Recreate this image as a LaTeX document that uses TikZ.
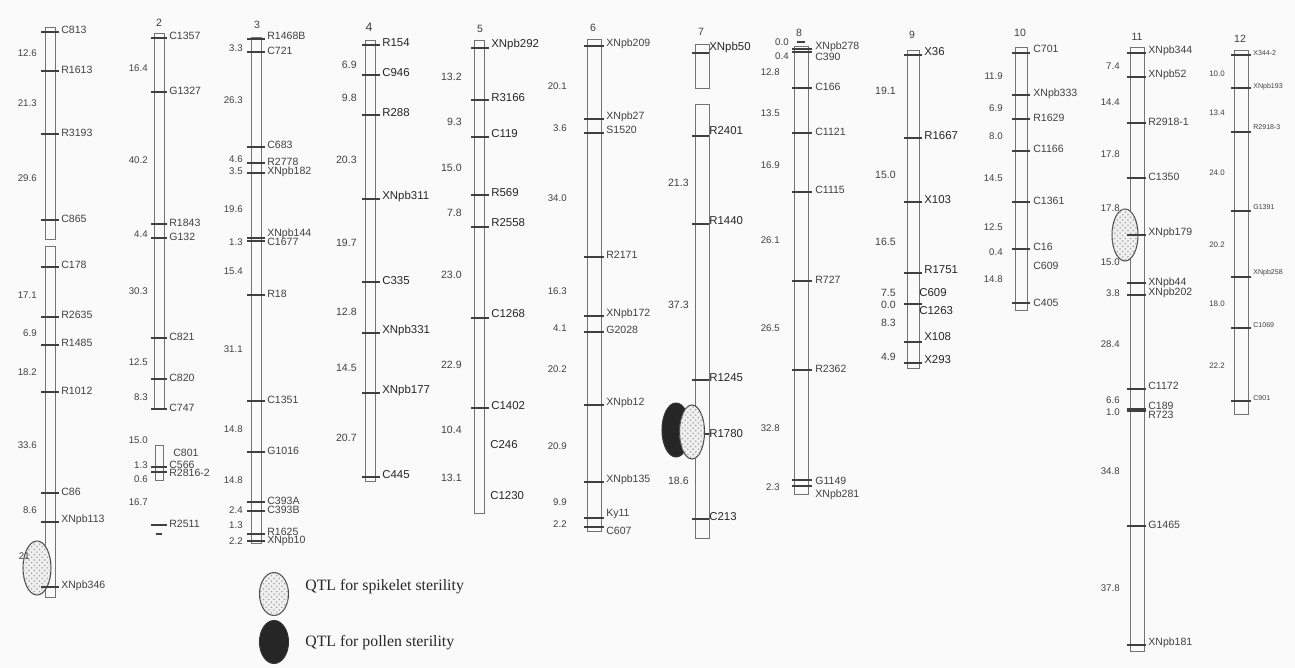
\documentclass[tikz,border=0pt]{standalone}
\usepackage{fontspec}
\setmainfont{Liberation Serif}
\setsansfont{Liberation Sans}
\usetikzlibrary{patterns}

\begin{document}
\begin{tikzpicture}[
    x=0.02cm, y=-0.02cm,
    bar/.style={draw=black!55,line width=0.5pt},
    tick/.style={draw=black!75,line width=0.6pt},
    mk/.style={anchor=west,inner sep=0pt,text=black!75,font=\sffamily\fontsize{6}{7}\selectfont},
    mkbig/.style={mk,text=black!85,font=\sffamily\fontsize{6.5}{7}\selectfont},
    mktiny/.style={mk,font=\sffamily\fontsize{4}{5}\selectfont},
    dist/.style={anchor=east,inner sep=0pt,text=black!75,font=\sffamily\fontsize{5.5}{6}\selectfont},
    chrnum/.style={inner sep=0pt,text=black!75,font=\sffamily\fontsize{6}{7}\selectfont},
    spikelet/.style={draw=black!70,line width=0.6pt,fill=black!6,
        postaction={pattern=crosshatch dots,pattern color=black!35}},
    pollen/.style={draw=black!80,line width=0.6pt,fill=black!85},
    legend/.style={anchor=west,inner sep=0pt,text=black!85,font=\rmfamily\fontsize{9}{10}\selectfont}
]

% 背景与画幅
\fill[black!2] (0,0) rectangle (1295,668);
\useasboundingbox (0,0) rectangle (1295,668);

% 染色体 1
\begin{scope}[shift={(50,0)}]
\draw[bar] (-5,27) rectangle (5,239);
\draw[bar] (-5,246) rectangle (5,597);
\draw[spikelet] (-13,568) ellipse [x radius=0.28cm, y radius=0.54cm];
\foreach \y/\ly/\m [count=\i] in {32/30/C813, 71/70/R1613, 134/133/R3193, 220/219/C865, 267/265/C178, 317/315/R2635, 345/343/R1485, 392/391/R1012, 493/492/C86, 522/520/XNpb113, 587/586/XNpb346} {
    \draw[tick] (-9,\y) -- (9,\y);
    \node[mk] (c1m\i) at (11,\ly) {\m};
}
\foreach \y/\d [count=\i] in {53/12.6, 103/21.3, 178/29.6, 295/17.1, 333/6.9, 372/18.2, 445/33.6, 510/8.6}
    \node[dist] (c1d\i) at (-13,\y) {\d};
\node[dist] (c1d9) at (-20,556) {21};
\end{scope}

% 染色体 2
\begin{scope}[shift={(159,0)}]
\node[chrnum] (n2) at (0,23) {2};
\draw[bar] (-5,33) rectangle (5,409);
\draw[bar] (-4,445) rectangle (4,480);
\foreach \y/\ly/\m [count=\i] in {38/36/C1357, 92/91/G1327, 224/223/R1843, 238/237/G132, 338/337/C821, 379/378/C820, 409/408/C747, 467/465/C566, 472/473/R2816-2, 525/524/R2511} {
    \draw[tick] (-8,\y) -- (8,\y);
    \node[mk] (c2m\i) at (10,\ly) {\m};
}
\draw[tick] (-3,534) -- (3,534);
\node[mk] (c2m11) at (14,453) {C801};
\foreach \y/\d [count=\i] in {68/16.4, 160/40.2, 234/4.4, 291/30.3, 362/12.5, 397/8.3, 440/15.0, 465/1.3, 479/0.6, 502/16.7}
    \node[dist] (c2d\i) at (-11,\y) {\d};
\end{scope}

% 染色体 3
\begin{scope}[shift={(256,0)}]
\node[chrnum] (n3) at (1,25) {3};
\draw[bar] (-5,37) rectangle (5,543);
\foreach \y/\ly/\m [count=\i] in {39/36/R1468B, 52/51/C721, 147/145/C683, 163/162/R2778, 173/172/XNpb182, 238/234/XNpb144, 241/242/C1677, 295/294/R18, 401/400/C1351, 452/451/G1016, 502/501/C393A, 511/510/C393B, 534/532/R1625, 541/541/XNpb10} {
    \draw[tick] (-9,\y) -- (9,\y);
    \node[mk] (c3m\i) at (11,\ly) {\m};
}
\foreach \y/\d [count=\i] in {48/3.3, 100/26.3, 159/4.6, 171/3.5, 209/19.6, 242/1.3, 271/15.4, 349/31.1, 429/14.8, 480/14.8, 510/2.4, 525/1.3, 541/2.2}
    \node[dist] (c3d\i) at (-13,\y) {\d};
\end{scope}

% 染色体 4
\begin{scope}[shift={(370,0)}]
\node[chrnum,font=\sffamily\fontsize{7}{8}\selectfont] (n4) at (-1,27) {4};
\draw[bar] (-5,40) rectangle (5,481);
\foreach \y/\ly/\m [count=\i] in {45/43/R154, 75/73/C946, 115/113/R288, 199/197/XNpb311, 282/281/C335, 333/331/XNpb331, 393/391/XNpb177, 477/475/C445} {
    \draw[tick] (-8,\y) -- (10,\y);
    \node[mkbig] (c4m\i) at (12,\ly) {\m};
}
\foreach \y/\d [count=\i] in {65/6.9, 98/9.8, 160/20.3, 243/19.7, 312/12.8, 368/14.5, 438/20.7}
    \node[dist,font=\sffamily\fontsize{6}{7}\selectfont] (c4d\i) at (-13,\y) {\d};
\end{scope}

% 染色体 5
\begin{scope}[shift={(479,0)}]
\node[chrnum] (n5) at (1,29) {5};
\draw[bar] (-5,40) rectangle (5,513);
\foreach \y/\ly/\m [count=\i] in {48/45/XNpb292, 100/98/R3166, 137/134/C119, 195/193/R569, 227/223/R2558, 318/314/C1268, 408/406/C1402} {
    \draw[tick] (-8,\y) -- (10,\y);
    \node[mkbig] (c5m\i) at (12,\ly) {\m};
}
\node[mkbig] (c5m8) at (11,445) {C246};
\node[mkbig] (c5m9) at (11,496) {C1230};
\foreach \y/\d [count=\i] in {77/13.2, 122/9.3, 168/15.0, 213/7.8, 275/23.0, 365/22.9, 430/10.4, 478/13.1}
    \node[dist,font=\sffamily\fontsize{6}{7}\selectfont] (c5d\i) at (-17,\y) {\d};
\end{scope}

% 染色体 6
\begin{scope}[shift={(594,0)}]
\node[chrnum] (n6) at (-1,28) {6};
\draw[bar] (-7,39) rectangle (7,531);
\foreach \y/\ly/\m [count=\i] in {46/44/XNpb209, 119/117/XNpb27, 133/130/S1520, 257/255/R2171, 316/314/XNpb172, 332/330/G2028, 405/403/XNpb12, 482/480/XNpb135, 518/514/Ky11, 527/531/C607} {
    \draw[tick] (-10,\y) -- (10,\y);
    \node[mk] (c6m\i) at (12,\ly) {\m};
}
\foreach \y/\d [count=\i] in {86/20.1, 128/3.6, 198/34.0, 291/16.3, 328/4.1, 369/20.2, 446/20.9, 502/9.9, 524/2.2}
    \node[dist] (c6d\i) at (-27,\y) {\d};
\end{scope}

% 染色体 7
\begin{scope}[shift={(702,0)}]
\node[chrnum] (n7) at (-1,32) {7};
\draw[bar] (-7,44) rectangle (7,88);
\draw[bar] (-7,104) rectangle (7,538);
\foreach \y/\ly/\m [count=\i] in {53/48/XNpb50, 136/131/R2401, 224/221/R1440, 380/378/R1245, 434/434/R1780, 519/517/C213} {
    \draw[tick] (-10,\y) -- (7,\y);
    \node[mkbig] (c7m\i) at (7,\ly) {\m};
}
\foreach \y/\d [count=\i] in {183/21.3, 305/37.3, 481/18.6}
    \node[dist,font=\sffamily\fontsize{6}{7}\selectfont] (c7d\i) at (-13,\y) {\d};
\draw[pollen] (-26,430) ellipse [x radius=0.28cm, y radius=0.54cm];
\draw[spikelet] (-10,432) ellipse [x radius=0.25cm, y radius=0.54cm];
\end{scope}

% 染色体 8
\begin{scope}[shift={(801,0)}]
\node[chrnum] (n8) at (-2,33) {8};
\draw[bar] (-7,46) rectangle (7,494);
\draw[tick] (-4,42) -- (4,42);
\foreach \y/\ly/\m [count=\i] in {49/47/XNpb278, 52/57/C390, 88/87/C166, 133/132/C1121, 192/190/C1115, 281/280/R727, 370/369/R2362, 480/481/G1149, 486/495/XNpb281} {
    \draw[tick] (-9,\y) -- (11,\y);
    \node[mk] (c8m\i) at (14,\ly) {\m};
}
\node[dist] (c8d1) at (-12,42) {0.0};
\node[dist] (c8d2) at (-12,56) {0.4};
\foreach \y/\d [count=\i from 3] in {72/12.8, 113/13.5, 165/16.9, 240/26.1, 328/26.5, 428/32.8, 487/2.3}
    \node[dist] (c8d\i) at (-21,\y) {\d};
\end{scope}

% 染色体 9
\begin{scope}[shift={(913,0)}]
\node[chrnum] (n9) at (-1,35) {9};
\draw[bar] (-6,50) rectangle (6,368);
\foreach \y/\ly/\m [count=\i] in {55/52/X36, 138/136/R1667, 202/200/X103, 273/270/R1751, 342/337/X108, 363/360/X293} {
    \draw[tick] (-9,\y) -- (9,\y);
    \node[mkbig] (c9m\i) at (11,\ly) {\m};
}
\draw[tick] (-9,304) -- (9,304);
\node[mkbig] (c9m7) at (6,293) {C609};
\node[mkbig] (c9m8) at (6,311) {C1263};
\foreach \y/\d [count=\i] in {91/19.1, 175/15.0, 242/16.5, 293/7.5, 305/0.0, 323/8.3, 357/4.9}
    \node[dist,font=\sffamily\fontsize{6}{7}\selectfont] (c9d\i) at (-17,\y) {\d};
\end{scope}

% 染色体 10
\begin{scope}[shift={(1021,0)}]
\node[chrnum] (n10) at (-1,33) {10};
\draw[bar] (-6,47) rectangle (6,310);
\foreach \y/\ly/\m [count=\i] in {53/49/C701, 95/94/XNpb333, 119/118/R1629, 151/149/C1166, 202/201/C1361, 249/247/C16, 303/303/C405} {
    \draw[tick] (-9,\y) -- (9,\y);
    \node[mk] (c10m\i) at (12,\ly) {\m};
}
\node[mk] (c10m8) at (12,266) {C609};
\foreach \y/\d [count=\i] in {76/11.9, 108/6.9, 136/8.0, 178/14.5, 227/12.5, 252/0.4, 279/14.8}
    \node[dist] (c10d\i) at (-18,\y) {\d};
\end{scope}

% 染色体 11
\begin{scope}[shift={(1137,0)}]
\node[chrnum] (n11) at (0,37) {11};
\draw[bar] (-7,47) rectangle (7,651);
\draw[spikelet] (-12,235) ellipse [x radius=0.26cm, y radius=0.52cm];
\foreach \y/\ly/\m [count=\i] in {53/51/XNpb344, 77/75/XNpb52, 123/122/R2918-1, 178/177/C1350, 235/233/XNpb179, 283/283/XNpb44, 295/293/XNpb202, 389/386/C1172, 409/406/C189, 411/415/R723, 526/525/G1465, 645/643/XNpb181} {
    \draw[tick] (-10,\y) -- (9,\y);
    \node[mk] (c11m\i) at (11,\ly) {\m};
}
\foreach \y/\d [count=\i] in {66/7.4, 102/14.4, 154/17.8, 208/17.8, 262/15.0, 293/3.8, 344/28.4, 400/6.6, 412/1.0, 471/34.8, 588/37.8}
    \node[dist] (c11d\i) at (-17,\y) {\d};
\end{scope}

% 染色体 12
\begin{scope}[shift={(1241,0)}]
\node[chrnum] (n12) at (-1,39) {12};
\draw[bar] (-7,50) rectangle (7,414);
\foreach \y/\ly/\m [count=\i] in {55/53/X344-2, 88/87/XNpb193, 132/127/R2918-3, 211/207/G1391, 277/273/XNpb258, 328/325/C1069, 401/398/C901} {
    \draw[tick] (-10,\y) -- (10,\y);
    \node[mktiny] (c12m\i) at (12,\ly) {\m};
}
\foreach \y/\d [count=\i] in {74/10.0, 113/13.4, 173/24.0, 245/20.2, 304/18.0, 366/22.2}
    \node[dist,font=\sffamily\fontsize{4.5}{5}\selectfont] (c12d\i) at (-16,\y) {\d};
\end{scope}

% 图例
\draw[spikelet] (274,594) ellipse [x radius=0.29cm, y radius=0.43cm];
\draw[pollen] (274,642) ellipse [x radius=0.29cm, y radius=0.43cm];
\node[legend] (lspk) at (305,587) {QTL for spikelet sterility};
\node[legend] (lpol) at (305,643) {QTL for pollen sterility};

\end{tikzpicture}
\end{document}
